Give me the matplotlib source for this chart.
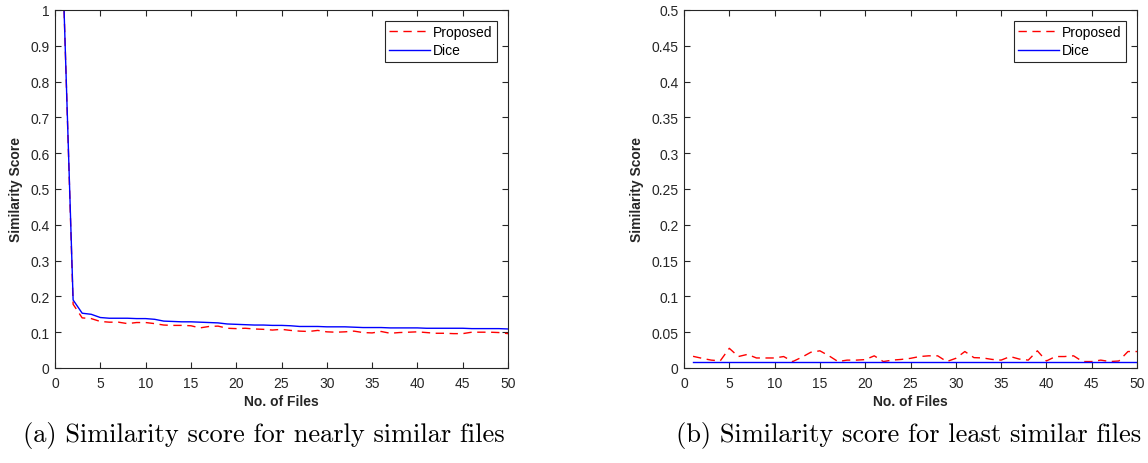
import matplotlib
matplotlib.use("Agg")
import matplotlib.pyplot as plt
import numpy as np

files = list(range(1, 51))

proposed_a = [1.0, 0.178, 0.140, 0.138, 0.130, 0.128, 0.128, 0.124, 0.127, 0.127,
              0.124, 0.120, 0.119, 0.119, 0.118, 0.112, 0.116, 0.117, 0.111, 0.110,
              0.111, 0.109, 0.108, 0.106, 0.108, 0.105, 0.103, 0.102, 0.105, 0.101,
              0.100, 0.101, 0.103, 0.099, 0.098, 0.102, 0.097, 0.099, 0.100, 0.101,
              0.099, 0.097, 0.097, 0.096, 0.096, 0.100, 0.100, 0.100, 0.099, 0.096]
dice_a = [1.0, 0.190, 0.153, 0.150, 0.141, 0.139, 0.139, 0.139, 0.138, 0.138,
          0.136, 0.131, 0.130, 0.129, 0.129, 0.128, 0.127, 0.126, 0.123, 0.122,
          0.121, 0.120, 0.120, 0.119, 0.119, 0.118, 0.116, 0.116, 0.116, 0.115,
          0.115, 0.115, 0.114, 0.113, 0.113, 0.113, 0.112, 0.112, 0.112, 0.112,
          0.111, 0.111, 0.111, 0.111, 0.111, 0.110, 0.110, 0.110, 0.110, 0.109]

proposed_b = [0.0163, 0.0135, 0.011, 0.010, 0.0275, 0.016, 0.019, 0.014, 0.014, 0.014,
              0.016, 0.009, 0.015, 0.022, 0.024, 0.017, 0.009, 0.011, 0.011, 0.0117,
              0.017, 0.009, 0.011, 0.012, 0.0135, 0.016, 0.017, 0.017, 0.009, 0.0135,
              0.023, 0.0145, 0.014, 0.012, 0.011, 0.016, 0.0125, 0.011, 0.024, 0.0098,
              0.016, 0.016, 0.017, 0.009, 0.009, 0.011, 0.009, 0.0098, 0.023, 0.023]
dice_b = [0.0085] * 50

yticks_a = [0, 0.1, 0.2, 0.3, 0.4, 0.5, 0.6, 0.7, 0.8, 0.9, 1]
yticklabels_a = ["0", "0.1", "0.2", "0.3", "0.4", "0.5", "0.6", "0.7", "0.8", "0.9", "1"]
yticks_b = [0, 0.05, 0.1, 0.15, 0.2, 0.25, 0.3, 0.35, 0.4, 0.45, 0.5]
yticklabels_b = ["0", "0.05", "0.1", "0.15", "0.2", "0.25", "0.3", "0.35", "0.4", "0.45", "0.5"]
xticks = [0, 5, 10, 15, 20, 25, 30, 35, 40, 45, 50]
captions = ["(a) Similarity score for nearly similar files",
            "(b) Similarity score for least similar files"]

plt.rcParams['font.family'] = ['Liberation Sans', 'DejaVu Sans']

W, H = 1148, 464
fig = plt.figure(figsize=(W / 100, H / 100), dpi=100)

def make_ax(x0, x1, y0, y1):
    return fig.add_axes([x0 / W, 1 - y1 / H, (x1 - x0) / W, (y1 - y0) / H])

axes = [make_ax(55, 508, 11, 369), make_ax(684, 1137, 11, 369)]
data = [(proposed_a, dice_a, yticks_a, yticklabels_a, 1.0),
        (proposed_b, dice_b, yticks_b, yticklabels_b, 0.5)]
axcol = "#262626"

for ax, (prop, dice, yt, ytl, ymax) in zip(axes, data):
    ax.plot(files, prop, color="#ff0000", linestyle=(0, (6, 4)), lw=1.0, label="Proposed")
    ax.plot(files, dice, color="#0000ff", linestyle="-", lw=1.0, label="Dice")
    ax.set_xlim(0, 50)
    ax.set_ylim(0, ymax)
    ax.set_xticks(xticks)
    ax.set_xticklabels([str(t) for t in xticks])
    ax.set_yticks(yt)
    ax.set_yticklabels(ytl)
    ax.tick_params(direction="in", top=True, right=True, length=4, width=0.8,
                   colors=axcol, labelsize=10, pad=4)
    ax.tick_params(axis="x", pad=6)
    for s in ax.spines.values():
        s.set_color(axcol)
        s.set_linewidth(0.8)
    ax.set_xlabel("No. of Files", fontsize=10, fontweight="bold", color=axcol, labelpad=3)
    ax.set_ylabel("Similarity Score", fontsize=10, fontweight="bold", color=axcol, labelpad=5)
    leg = ax.legend(loc="upper right", fontsize=10, fancybox=False, framealpha=1,
                    edgecolor=axcol, handlelength=3.0, borderaxespad=0.8,
                    handletextpad=0.2, labelspacing=0.3, borderpad=0.3)
    leg.get_frame().set_linewidth(0.8)

fig.text(264 / W, 1 - 436 / H, captions[0], ha="center", va="center",
         fontsize=19, family="cmr10")
fig.text(909 / W, 1 - 436 / H, captions[1], ha="center", va="center",
         fontsize=19, family="cmr10")

fig.savefig("out.png", dpi=100)
